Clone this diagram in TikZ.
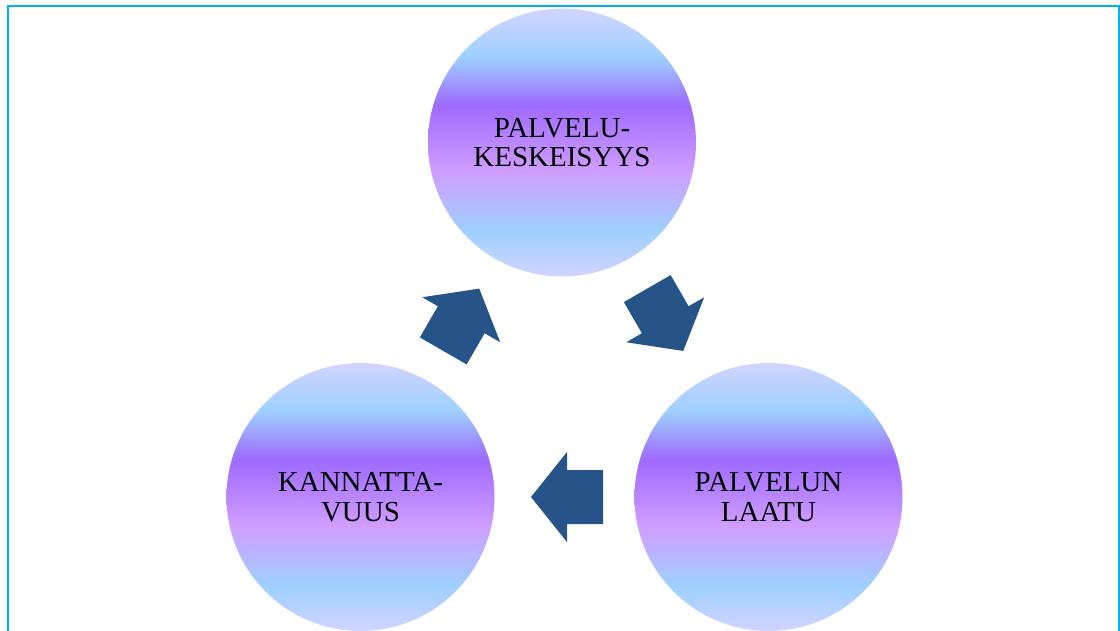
\documentclass[tikz,border=0pt]{standalone}
\usepackage{fontspec}
\setmainfont{Liberation Serif}

\definecolor{framecyan}{RGB}{0,176,240}
\definecolor{arrowblue}{RGB}{38,84,136}
\definecolor{orblav}{RGB}{210,212,255}
\definecolor{orbsky}{RGB}{158,208,255}
\definecolor{orbviolet}{RGB}{158,106,255}
\definecolor{orblilac}{RGB}{208,158,255}

% banded fill of the circles, bottom (25bp) to top (75bp)
\pgfdeclareverticalshading{orbfill}{100bp}{%
  color(0bp)=(orblav); color(25bp)=(orblav); color(33.5bp)=(orbsky);
  color(44.6bp)=(orblilac); color(57bp)=(orbviolet); color(66bp)=(orbsky);
  color(75bp)=(orblav); color(100bp)=(orblav)}

\tikzset{
  orb/.style={circle, minimum size=268pt, inner sep=0pt, shading=orbfill,
    align=center, text=black, font=\fontsize{29}{29.3}\selectfont},
  blockarrow/.pic={
    \fill[arrowblue] (36,0) -- (0,45) -- (0,27) -- (-36,27) -- (-36,-27)
      -- (0,-27) -- (0,-45) -- cycle;}
}

\begin{document}
\begin{tikzpicture}[x=1pt,y=-1pt]
\useasboundingbox (0,0) rectangle (1120,630);

% frame
\draw[framecyan, line width=2.4pt] (8,640) -- (8,6) -- (1119.5,6) -- (1119.5,640);

% the three circles
\node[orb] (top)   at (562,142.5) {PALVELU-\\KESKEISYYS};
\node[orb] (right) at (768.5,497) {PALVELUN\\LAATU};
\node[orb] (left)  at (360.5,497) {KANNATTA-\\VUUS};

% arrow positions halfway between the circle centres
\path (left.center) -- (top.center) coordinate[midway] (lefttop);
\path (top.center) -- (right.center) coordinate[midway] (topright);
\path (right.center) -- (left.center) coordinate[midway] (rightleft);

% block arrows, clockwise cycle
\pic[rotate=60]  at (lefttop)   {blockarrow};
\pic[rotate=-60] at (topright)  {blockarrow};
\pic[rotate=180] at ([xshift=2.5pt]rightleft) {blockarrow};
\end{tikzpicture}
\end{document}
